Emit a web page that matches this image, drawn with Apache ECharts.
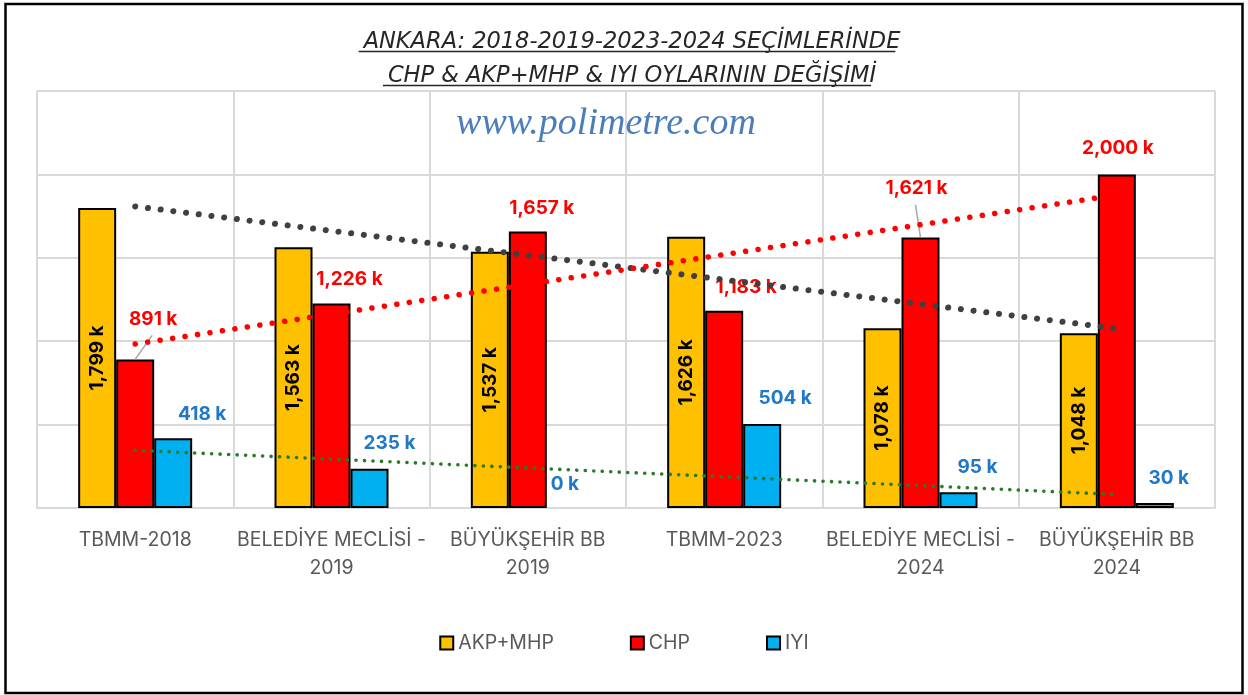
<!DOCTYPE html>
<html>
<head>
<meta charset="utf-8">
<script src="https://cdn.jsdelivr.net/npm/echarts@6/dist/echarts.min.js"></script>
<style>
    html, body { margin: 0; padding: 0; background: #fff; }
    #chart { width: 1248px; height: 695px; }
</style>
</head>
<body>
<div id="chart"></div>
<script>
// data (thousands of votes)
const categories = ['TBMM-2018', 'BELEDİYE MECLİSİ -\n2019', 'BÜYÜKŞEHİR BB\n2019', 'TBMM-2023', 'BELEDİYE MECLİSİ -\n2024', 'BÜYÜKŞEHİR BB\n2024'];
const akpValues = [1799, 1563, 1537, 1626, 1078, 1048];
const chpValues = [891, 1226, 1657, 1183, 1621, 2000];
const iyiValues = [418, 235, 0, 504, 95, 30];
// dotted trendlines: first and last point as seen in the picture
const akpTrend = [1808, null, null, null, null, 1076];
const chpTrend = [983, null, null, null, null, 1877];
const iyiTrend = [346, null, null, null, null, 81];
const yMin = 0, yMax = 2500, yStep = 500;

const titleLines = ['ANKARA: 2018-2019-2023-2024 SEÇİMLERİNDE', 'CHP & AKP+MHP & IYI OYLARININ DEĞİŞİMİ'];

// label nudges (dx, dy) so the labels sit like the original
const chpShift = [[18, -26], [18, -10], [14, -9], [22, -9], [-4, -35], [1, -12]];
const iyiShift = [[29, -9], [20, -11], [-1, -9], [23, -11], [19, -10], [14, -10]];
const chpLeader = [0, 4]; // CHP labels that get a guide line

const colorAkp = '#FFC000';
const colorChp = '#FF0000';
const colorIyi = '#00B0F0';
const colorGrid = '#D9D9D9';
const colorText = '#595959';
const font = 'Inter';
const titleFont = 'DejaVu Sans';

function fmtK(p) {
    return echarts.format.addCommas(p.value) + ' k';
}

// measure title lines for the underlines
const titleSize = 22.5;
const measure = document.createElement('canvas').getContext('2d');
measure.font = 'italic ' + titleSize + 'px "' + titleFont + '"';
const titleTop = 20.5, titleLH = 34, centerX = 627;
const underlines = titleLines.map(function (t, i) {
    const w = measure.measureText(t).width;
    const y = titleTop + titleLH * i + 31;
    return {
        id: 'ul' + i,
        type: 'line',
        shape: {x1: centerX - w / 2, y1: y, x2: centerX + w / 2, y2: y},
        style: {stroke: '#262626', lineWidth: 1.3},
        silent: true
    };
});

function barSeries(name, values, color, label, shift) {
    const s = {
        name: name,
        type: 'bar',
        barWidth: 38,
        barGap: '0%',
        itemStyle: {color: color, borderColor: '#000', borderWidth: 2},
        label: label,
        data: values.map(function (v) {
            const d = {value: v};
            if (v === 0) d.itemStyle = {borderWidth: 0};
            return d;
        })
    };
    if (shift) {
        s.labelLayout = function (p) {
            const d = shift[p.dataIndex];
            return {dx: d[0], dy: d[1]};
        };
    }
    return s;
}

function trendSeries(values, color, width, dash) {
    return {
        type: 'line',
        data: values,
        connectNulls: true,
        symbol: 'none',
        silent: true,
        z: 5,
        lineStyle: {color: color, width: width, type: dash, cap: 'round'}
    };
}

const chart = echarts.init(document.getElementById('chart'));

const option = {
    animation: false,
    backgroundColor: '#fff',
    title: [
        {
            text: titleLines.join('\n'),
            left: centerX,
            top: titleTop,
            textAlign: 'center',
            textStyle: {
                fontFamily: titleFont,
                fontStyle: 'italic',
                fontWeight: 'normal',
                fontSize: titleSize,
                lineHeight: titleLH,
                color: '#262626'
            }
        },
        {
            text: 'www.polimetre.com',
            left: 601,
            top: 100,
            textAlign: 'center',
            textStyle: {
                fontFamily: 'Liberation Serif',
                fontStyle: 'italic',
                fontWeight: 'normal',
                fontSize: 38,
                color: '#4A7DBA'
            }
        }
    ],
    legend: {
        data: ['AKP+MHP', 'CHP', 'IYI'],
        left: 'center',
        top: 628,
        icon: 'rect',
        itemWidth: 13,
        itemHeight: 13,
        itemGap: 76,
        textStyle: {color: colorText, fontSize: 19.5, fontFamily: font}
    },
    grid: {left: 37, right: 33, top: 91, bottom: 187},
    xAxis: {
        type: 'category',
        data: categories,
        axisTick: {show: false},
        axisLine: {lineStyle: {color: colorGrid, width: 2}},
        splitLine: {show: true, interval: 0, lineStyle: {color: colorGrid, width: 2}},
        axisLabel: {interval: 0, color: colorText, fontSize: 19.5, fontFamily: font, lineHeight: 28, margin: 18}
    },
    yAxis: {
        type: 'value',
        min: yMin,
        max: yMax,
        interval: yStep,
        axisLabel: {show: false},
        axisLine: {show: false},
        axisTick: {show: false},
        splitLine: {lineStyle: {color: colorGrid, width: 2}}
    },
    series: [
        barSeries('AKP+MHP', akpValues, colorAkp, {
            show: true, position: 'inside', rotate: 90,
            color: '#000', fontWeight: 'bold', fontSize: 19, fontFamily: font,
            formatter: fmtK
        }),
        barSeries('CHP', chpValues, colorChp, {
            show: true, position: 'top',
            color: colorChp, fontWeight: 'bold', fontSize: 19, fontFamily: font,
            formatter: fmtK
        }, chpShift),
        barSeries('IYI', iyiValues, colorIyi, {
            show: true, position: 'top',
            color: '#1F78C8', fontWeight: 'bold', fontSize: 19, fontFamily: font,
            formatter: fmtK
        }, iyiShift),
        trendSeries(akpTrend, '#404040', 6, [0.1, 12.7]),
        trendSeries(chpTrend, '#FF0000', 5.5, [0.1, 12.5]),
        trendSeries(iyiTrend, '#2A7A2A', 3.6, [0.1, 8.4])
    ],
    graphic: underlines.concat([
        {
            id: 'frame',
            type: 'rect',
            shape: {x: 5.5, y: 4, width: 1237, height: 689},
            style: {fill: null, stroke: '#000', lineWidth: 2.5},
            silent: true
        }
    ])
};

chart.setOption(option);

// guide lines from the CHP bar top to its moved label (CHP is the middle bar)
const leaders = chpLeader.map(function (i) {
    const top = chart.convertToPixel({xAxisIndex: 0, yAxisIndex: 0}, [i, chpValues[i]]);
    const end = [top[0] + chpShift[i][0] - 1, top[1] + chpShift[i][1] + 2];
    return {
        id: 'leader' + i,
        type: 'line',
        shape: {x1: top[0], y1: top[1], x2: end[0], y2: end[1]},
        style: {stroke: '#A6A6A6', lineWidth: 1.5},
        z: 4,
        silent: true
    };
});
chart.setOption({graphic: leaders});
</script>
</body>
</html>
